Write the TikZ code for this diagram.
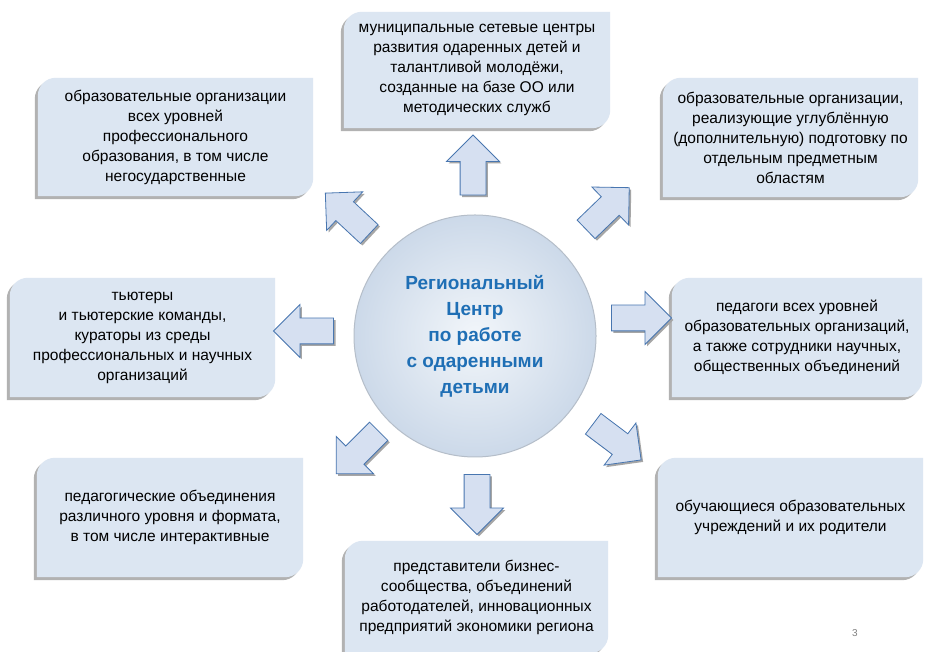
\documentclass[tikz,border=0pt]{standalone}
\usepackage{fontspec}
\setmainfont{Liberation Sans}
\usetikzlibrary{shapes.arrows,shadows,backgrounds}
\definecolor{leafblue}{RGB}{220,230,242}
\definecolor{arrowblue}{RGB}{214,224,241}
\definecolor{arrowline}{RGB}{72,118,176}
\definecolor{hubtext}{RGB}{31,111,181}
\definecolor{hubin}{RGB}{242,246,250}
\definecolor{hubedge}{RGB}{204,217,233}
\begin{document}
\begin{tikzpicture}[x=1pt, y=1pt,
	leaf/.style={inner sep=0pt, align=center, font=\fontsize{15.5}{20}\selectfont},
	fatarrow/.style={single arrow, draw=arrowline, line width=0.8pt, fill=arrowblue, minimum height=60pt, inner xsep=0pt, inner ysep=12.5pt, single arrow head extend=13.5pt, drop shadow={shadow xshift=2pt, shadow yshift=-2pt, fill=gray!70, opacity=1}},
	hub/.style={circle, minimum size=242pt, draw=hubedge!70!gray, line width=1pt, inner color=hubin, outer color=hubedge, align=center, text=hubtext, font=\bfseries\fontsize{19}{26}\selectfont}]
	\useasboundingbox (0,0) rectangle (925,652);
	\node[hub] (hub) at (475,316) {Региональный\\Центр\\по работе\\с одаренными\\детьми};
	\node[leaf, minimum width=266pt, minimum height=116pt] (tc) at (477,582) {муниципальные сетевые центры\\развития одаренных детей и\\талантливой молодёжи,\\созданные на базе ОО или\\методических служб};
	\node[leaf, minimum width=275pt, minimum height=118pt] (tl) at (175.5,515) {образовательные организации\\всех уровней\\профессионального\\образования, в том числе\\негосударственные};
	\node[leaf, minimum width=255pt, minimum height=119pt] (tr) at (790.5,514.5) {образовательные организации,\\реализующие углублённую\\(дополнительную) подготовку по\\отдельным предметным\\областям};
	\node[leaf, minimum width=265pt, minimum height=119pt] (ml) at (142.5,314.5) {тьютеры\\и тьютерские команды,\\кураторы из среды\\профессиональных и научных\\организаций};
	\node[leaf, minimum width=250pt, minimum height=119pt] (mr) at (797,314.5) {педагоги всех уровней\\образовательных организаций,\\а также сотрудники научных,\\общественных объединений};
	\node[leaf, minimum width=266pt, minimum height=119pt] (bl) at (170,134.5) {педагогические объединения\\различного уровня и формата,\\в том числе интерактивные};
	\node[leaf, minimum width=265pt, minimum height=119pt] (br) at (790.5,134.5) {обучающиеся образовательных\\учреждений и их родители};
	\node[leaf, minimum width=263pt, minimum height=112pt] (bc) at (476.5,55) {представители бизнес-\\сообщества, объединений\\работодателей, инновационных\\предприятий экономики региона};
	\begin{scope}[on background layer]
		\fill[white] (0,0) rectangle (925,652);
		\foreach \nm in {tc,tl,tr,ml,mr,bl,br,bc}{
			\fill[gray!60, transform canvas={shift={(-3pt,-3pt)}}] ([yshift=-18pt]\nm.north west) arc[start angle=180, end angle=90, radius=18pt] -- (\nm.north east) -- ([yshift=18pt]\nm.south east) arc[start angle=0, end angle=-90, radius=18pt] -- (\nm.south west) -- cycle;
			\fill[leafblue] ([yshift=-18pt]\nm.north west) arc[start angle=180, end angle=90, radius=18pt] -- (\nm.north east) -- ([yshift=18pt]\nm.south east) arc[start angle=0, end angle=-90, radius=18pt] -- (\nm.south west) -- cycle;
		}
	\end{scope}
	\node[fatarrow, rotate=90] (aup) at (473,480.5) {};
	\node[fatarrow, rotate=-90] (adown) at (477,154) {};
	\node[fatarrow, rotate=180] (aleft) at (310,321) {};
	\node[fatarrow] (aright) at (635,334) {};
	\node[fatarrow, rotate=137] (aupleft) at (352,434) {};
	\node[fatarrow, rotate=44] (aupright) at (603,439) {};
	\node[fatarrow, rotate=225] (adownleft) at (362,204) {};
	\node[fatarrow, rotate=-37] (adownright) at (612,214) {};
	\node[font=\fontsize{10}{12}\selectfont, text=gray] (pg) at (855,19) {3};
\end{tikzpicture}
\end{document}
